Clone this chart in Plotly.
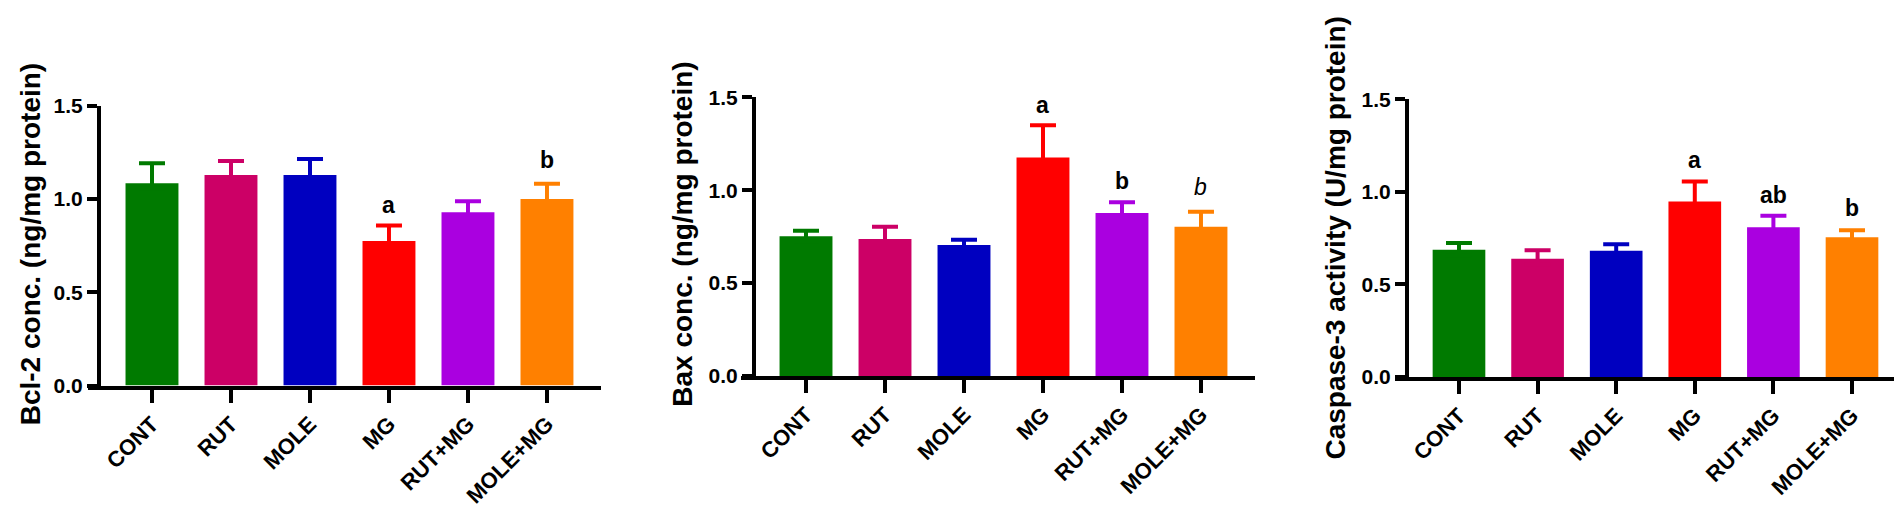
import plotly.graph_objects as go

W, H = 1902, 505

groups = ["CONT", "RUT", "MOLE", "MG", "RUT+MG", "MOLE+MG"]
bar_colors = ["#007A00", "#CC0066", "#0000C0", "#FF0000", "#AA00E0", "#FF8000"]

# Bcl-2 conc. (ng/mg protein)
bcl2_mean = [1.085, 1.13, 1.13, 0.775, 0.93, 1.0]
bcl2_sem = [0.108, 0.075, 0.085, 0.083, 0.058, 0.082]
bcl2_letters = ["", "", "", "a", "", "b"]
bcl2_letter_y = [0, 0, 0, 0.97, 0, 1.21]

# Bax conc. (ng/mg protein)
bax_mean = [0.752, 0.738, 0.705, 1.176, 0.877, 0.803]
bax_sem = [0.03, 0.065, 0.028, 0.173, 0.058, 0.081]
bax_letters = ["", "", "", "a", "b", "b"]
bax_letter_y = [0, 0, 0, 1.459, 1.048, 1.017]
bax_letter_italic = [False, False, False, False, False, True]

# Caspase-3 activity (U/mg protein)
casp_mean = [0.687, 0.639, 0.682, 0.948, 0.808, 0.754]
casp_sem = [0.036, 0.046, 0.035, 0.107, 0.062, 0.038]
casp_letters = ["", "", "", "a", "ab", "b"]
casp_letter_y = [0, 0, 0, 1.17, 0.985, 0.912]

y_titles = ["Bcl-2 conc. (ng/mg protein)", "Bax conc. (ng/mg protein)",
            "Caspase-3 activity (U/mg protein)"]
y_ticks = [0.0, 0.5, 1.0, 1.5]

FONT = "Liberation Sans, Arial, sans-serif"

# pixel layout of each panel: x-axis span, y-axis span, y-axis x pos, x range, title pos
panels = [
    dict(xd=(80, 593), yd=(90, 383), ypos=91, xr=(-0.81, 5.684), title=(22, 235)),
    dict(xd=(733, 1247), yd=(81, 373), ypos=746, xr=(-0.823, 5.684), title=(675, 225)),
    dict(xd=(1387, 1898), yd=(83, 374), ypos=1399, xr=(-0.814, 5.687), title=(1328, 229)),
]

data_sets = [
    (bcl2_mean, bcl2_sem, bcl2_letters, bcl2_letter_y, [False] * 6),
    (bax_mean, bax_sem, bax_letters, bax_letter_y, bax_letter_italic),
    (casp_mean, casp_sem, casp_letters, casp_letter_y, [False] * 6),
]

fig = go.Figure()
annotations = []

for p, (means, sems, letters, ly, italic) in enumerate(data_sets):
    sfx = "" if p == 0 else str(p + 1)
    for i, g in enumerate(groups):
        # lower cap hidden inside the bar (same colour), so only the upper bar shows
        fig.add_trace(go.Bar(
            x=[g], y=[means[i]],
            xaxis="x" + sfx, yaxis="y" + sfx,
            width=0.67,
            marker=dict(color=bar_colors[i], line=dict(width=0)),
            error_y=dict(type="data", array=[sems[i]], arrayminus=[0.03],
                         symmetric=False, color=bar_colors[i],
                         thickness=4, width=13),
            showlegend=False,
        ))
        if letters[i]:
            annotations.append(dict(
                x=g, y=ly[i], xref="x" + sfx, yref="y" + sfx,
                text=letters[i], showarrow=False, yanchor="middle",
                font=dict(family=FONT, size=23, color="black",
                          weight="normal" if italic[i] else "bold",
                          style="italic" if italic[i] else "normal"),
            ))
    pan = panels[p]
    tx, ty = pan["title"]
    annotations.append(dict(
        x=tx / W, y=1 - ty / H, xref="paper", yref="paper",
        text=y_titles[p], textangle=-90, showarrow=False,
        xanchor="center", yanchor="middle",
        font=dict(family=FONT, size=28, color="black", weight="bold"),
    ))

layout = dict(
    width=W, height=H,
    margin=dict(l=0, r=0, t=0, b=0),
    paper_bgcolor="white", plot_bgcolor="white",
    barmode="overlay",
    annotations=annotations,
    showlegend=False,
)

for p, pan in enumerate(panels):
    sfx = "" if p == 0 else str(p + 1)
    x0, x1 = pan["xd"]
    y0, y1 = pan["yd"]
    layout["xaxis" + sfx] = dict(
        domain=[x0 / W, x1 / W], range=list(pan["xr"]),
        anchor="y" + sfx, type="category",
        showline=True, linecolor="black", linewidth=4,
        ticks="outside", ticklen=13, tickwidth=4, tickcolor="black",
        tickangle=-45, showgrid=False, zeroline=False,
        tickfont=dict(family=FONT, size=22, color="black", weight="bold"),
    )
    layout["yaxis" + sfx] = dict(
        domain=[1 - y1 / H, 1 - y0 / H], range=[0, 1.5],
        anchor="free", position=pan["ypos"] / W,
        tickvals=y_ticks, tickformat=".1f",
        showline=True, linecolor="black", linewidth=4,
        ticks="outside", ticklen=10, tickwidth=3.5, tickcolor="black",
        showgrid=False, zeroline=False,
        tickfont=dict(family=FONT, size=21, color="black", weight="bold"),
    )

fig.update_layout(**layout)
fig.write_html("out.html")
